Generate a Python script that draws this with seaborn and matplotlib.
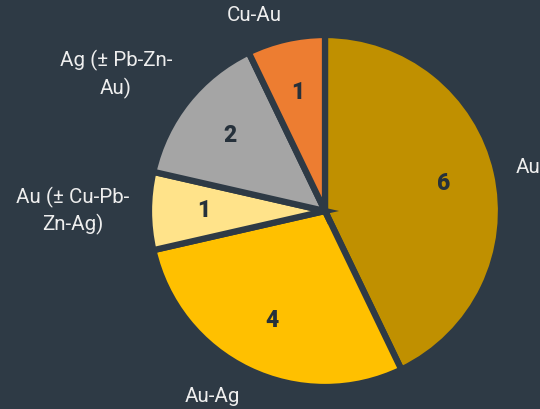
import textwrap
import numpy as np
import matplotlib
matplotlib.use('Agg')
import matplotlib.pyplot as plt
import seaborn as sns

categories = ['Au', 'Au-Ag', 'Au (± Cu-Pb-Zn-Ag)', 'Ag (± Pb-Zn-Au)', 'Cu-Au']
counts = [6, 4, 1, 2, 1]
colors = ['#C09000', '#FFC000', '#FFE38A', '#A5A5A5', '#ED7D31']

bg = '#2E3A45'
sns.set_theme(style='white')
plt.rcParams['font.family'] = ['Roboto', 'DejaVu Sans']

fig = plt.figure(figsize=(5.4, 4.09), dpi=100, facecolor=bg)
ax = fig.add_axes([0, 0, 1, 1])
ax.set_facecolor(bg)

cx, cy, r = 325, 198, 176
wedges, _ = ax.pie(counts, colors=colors, startangle=90, counterclock=False,
                   center=(cx, cy), radius=r, frame=True,
                   wedgeprops=dict(edgecolor=bg, linewidth=4.5))
ax.set_xlim(0, 540)
ax.set_ylim(0, 409)
ax.set_aspect('equal')
ax.axis('off')

for w, name, n in zip(wedges, categories, counts):
    ang = np.deg2rad((w.theta1 + w.theta2) / 2)
    c, s = np.cos(ang), np.sin(ang)
    # value inside
    ax.text(cx + 0.69 * r * c, cy + 0.69 * r * s, str(n), ha='center', va='center',
            fontsize=16.5, fontweight='heavy', color='#26313B')
    # category outside
    ha = 'left' if c > 0 else 'right'
    va = 'baseline' if s > 0.3 else ('top' if s < -0.3 else 'center')
    label = '\n'.join(textwrap.wrap(name, 12))
    ax.text(cx + 1.11 * r * c, cy + 1.11 * r * s - (5 if 0.3 < s < 0.8 else 0), label,
            ha=ha, va=va, multialignment='center', fontsize=14.8, color='#EEEEEE',
            linespacing=1.4, clip_on=False)

fig.savefig('out.png', dpi=100, facecolor=bg)
